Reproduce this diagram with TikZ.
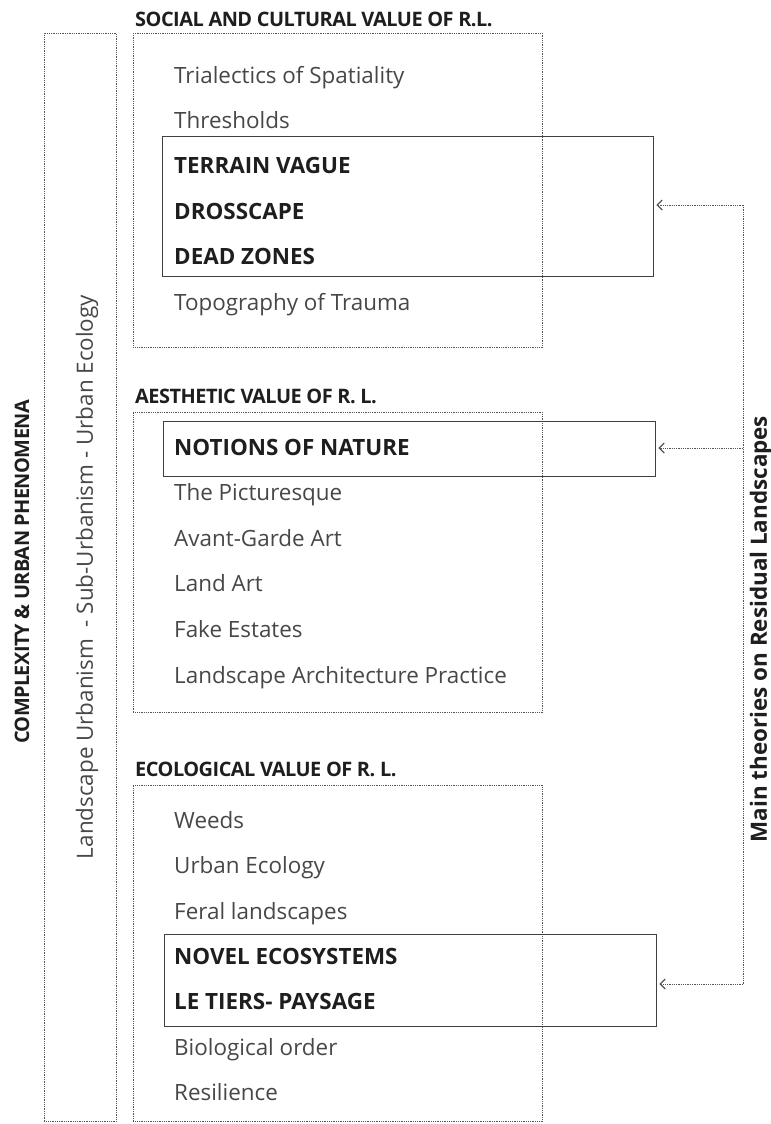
\documentclass[tikz,border=0pt]{standalone}
\usepackage{fontspec}
\setmainfont{Open Sans}
\usetikzlibrary{arrows.meta}
\definecolor{itemgray}{HTML}{474747}
\definecolor{ink}{HTML}{1E1E1E}
\definecolor{dotc}{HTML}{555555}
\begin{document}
\begin{tikzpicture}[x=1bp,y=-1bp,
  dotbox/.style={draw=dotc,line width=0.9pt,dash pattern=on 0.9pt off 0.9pt,anchor=north west,inner sep=0pt},
  solidbox/.style={draw=ink!85,line width=1.4pt,anchor=north west,inner sep=0pt},
  item/.style={anchor=base west,inner sep=0pt,text=itemgray,font=\fontsize{22.5}{26}\selectfont},
  bitem/.style={anchor=base west,inner sep=0pt,text=ink,font=\fontsize{22.5}{26}\selectfont\bfseries},
  head/.style={anchor=base west,inner sep=0pt,text=ink,font=\fontsize{20}{24}\selectfont\bfseries\addfontfeature{LetterSpace=-2.5}},
  dotline/.style={draw=dotc,line width=0.9pt,dash pattern=on 0.9pt off 0.9pt},
  arr/.style={dotline,-{Straight Barb[length=5bp,width=10bp,line width=1.2pt,sep=0pt]},shorten >=2bp}]
\useasboundingbox (0,0) rectangle (771,1124);
% left column
\node[dotbox,minimum width=72bp,minimum height=1088bp] (leftbox) at (44,33) {};
\node[rotate=90,inner sep=0pt,text=ink,font=\fontsize{20}{24}\selectfont\bfseries\addfontfeature{LetterSpace=-3}] (complex) at (22,572) {COMPLEXITY \& URBAN PHENOMENA};
\node[rotate=90,inner sep=0pt,text=itemgray,font=\fontsize{22.5}{26}\selectfont] (landurb) at (87,577) {Landscape Urbanism~~- Sub-Urbanism - Urban Ecology};
% social
\node[head] (h1) at (135,26) {SOCIAL AND CULTURAL VALUE OF R.L.};
\node[dotbox,minimum width=409bp,minimum height=314bp] (soc) at (133,33) {};
\node[solidbox,minimum width=491bp,minimum height=140bp] (b1) at (162,136) {};
\node[item] (s1) at (174,83) {Trialectics of Spatiality};
\node[item] (s2) at (174,128.5) {Thresholds};
\node[bitem] (s3) at (174,173.5) {TERRAIN VAGUE};
\node[bitem] (s4) at (174,219.5) {DROSSCAPE};
\node[bitem] (s5) at (174,264.5) {DEAD ZONES};
\node[item] (s6) at (174,310.5) {Topography of Trauma};
% aesthetic
\node[head] (h2) at (135,403) {AESTHETIC VALUE OF R. L.};
\node[dotbox,minimum width=409bp,minimum height=300bp] (aes) at (133,412) {};
\node[solidbox,minimum width=492bp,minimum height=55bp] (b2) at (163,421) {};
\node[bitem] (a1) at (174,455.5) {NOTIONS OF NATURE};
\node[item] (a2) at (174,500.5) {The Picturesque};
\node[item] (a3) at (174,546.5) {Avant-Garde Art};
\node[item] (a4) at (174,591.5) {Land Art};
\node[item] (a5) at (174,637.5) {Fake Estates};
\node[item] (a6) at (174,683.5) {Landscape Architecture Practice};
% ecological
\node[head] (h3) at (135,776) {ECOLOGICAL VALUE OF R. L.};
\node[dotbox,minimum width=409bp,minimum height=336bp] (eco) at (133,785) {};
\node[solidbox,minimum width=492bp,minimum height=92bp] (b3) at (164,934) {};
\node[item] (e1) at (174,828.5) {Weeds};
\node[item] (e2) at (174,873.5) {Urban Ecology};
\node[item] (e3) at (174,919.5) {Feral landscapes};
\node[bitem] (e4) at (174,964.5) {NOVEL ECOSYSTEMS};
\node[bitem] (e5) at (174,1009.5) {LE TIERS- PAYSAGE};
\node[item] (e6) at (174,1055.5) {Biological order};
\node[item] (e7) at (174,1100.5) {Resilience};
% right connectors
\coordinate (t1) at (743,205);
\coordinate (t2) at (743,448);
\coordinate (t3) at (743,984);
\draw[dotline] (t1) -- (t3);
\draw[arr] (t1) -- (t1 -| b1.east);
\draw[arr] (t2) -- (t2 -| b2.east);
\draw[arr] (t3) -- (t3 -| b3.east);
\node[rotate=90,inner sep=0pt,text=ink,font=\fontsize{22.5}{26}\selectfont\bfseries] (main) at (761,629) {Main theories on Residual Landscapes};
\end{tikzpicture}
\end{document}
